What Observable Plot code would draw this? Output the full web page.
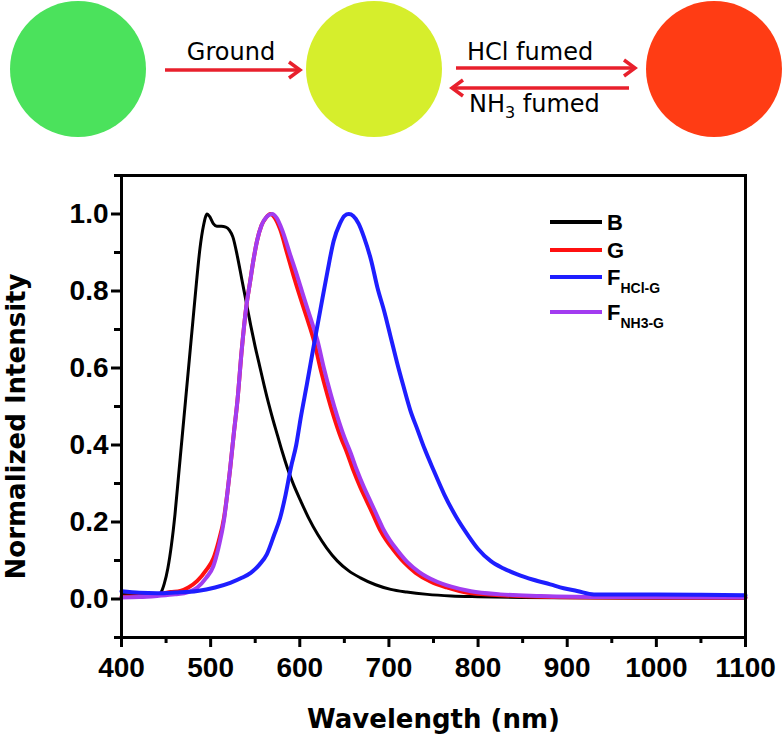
<!DOCTYPE html>
<html>
<head>
<meta charset="utf-8">
<script src="https://cdn.jsdelivr.net/npm/d3@7"></script>
<script src="https://cdn.jsdelivr.net/npm/@observablehq/plot@0.6"></script>
<style>
  body { margin: 0; background: #fff; }
  #wrap { position: relative; width: 783px; height: 741px; overflow: hidden; }
  #wrap > svg { position: absolute; }
</style>
</head>
<body>
<div id="wrap"></div>
<script>
// ---------- data ----------
const wlB = [400,420,440,444,448,452,456,460,464,468,472,476,480,484,488,492,496,499,503,507,512,517,521,525,530,535,540,545,550,555,560,565,570,575,580,586,593,601,610,620,630,642,655,668,685,702,720,743,770,800,850,900,1000,1100];
const vB  = [0.012,0.01,0.01,0.016,0.04,0.08,0.14,0.22,0.32,0.42,0.52,0.62,0.72,0.82,0.91,0.97,1.0,0.993,0.975,0.968,0.968,0.966,0.958,0.94,0.89,0.83,0.77,0.71,0.655,0.605,0.555,0.508,0.465,0.425,0.385,0.341,0.297,0.255,0.21,0.168,0.133,0.099,0.073,0.055,0.037,0.025,0.018,0.012,0.008,0.006,0.004,0.003,0.002,0.002];

const wlG = [400,420,440,455,466,475,485,495,503,509,515,519,522,526,530,535,540,544,548,552,557,562,567,572,578,586,593,601,608,616,623,631,638,646,653,660,668,675,683,690,697,705,717,730,747,765,788,825,870,950,1100];
const vG  = [0.006,0.008,0.012,0.018,0.021,0.03,0.047,0.075,0.105,0.15,0.211,0.28,0.341,0.43,0.514,0.65,0.76,0.82,0.88,0.93,0.97,0.99,1.0,0.99,0.96,0.896,0.84,0.78,0.73,0.67,0.6,0.53,0.475,0.42,0.38,0.335,0.29,0.255,0.215,0.18,0.153,0.128,0.095,0.068,0.045,0.03,0.016,0.01,0.006,0.004,0.003];

const wlH = [400,420,440,460,485,505,522,535,545,555,563,571,578,584,590,596,601,608,616,623,631,638,645,650,655,660,666,672,680,687,695,702,709,716,724,732,740,750,762,775,788,800,814,828,844,862,881,896,911,930,960,1000,1050,1100];
const vH  = [0.02,0.016,0.015,0.017,0.021,0.03,0.042,0.055,0.068,0.09,0.116,0.165,0.211,0.27,0.341,0.4,0.47,0.558,0.662,0.75,0.85,0.93,0.975,0.995,1.0,0.995,0.975,0.94,0.88,0.81,0.745,0.68,0.615,0.555,0.49,0.44,0.39,0.335,0.272,0.215,0.168,0.13,0.099,0.08,0.064,0.05,0.038,0.028,0.021,0.012,0.012,0.012,0.011,0.01];

const wlN = [400,420,440,460,475,485,495,503,509,515,519,522,526,530,535,540,544,548,552,557,563,569,574,580,589,597,605,612,620,627,635,642,650,657,664,672,679,687,694,701,709,721,734,751,770,792,825,870,950,1100];
const vN  = [0.004,0.005,0.008,0.012,0.018,0.03,0.055,0.085,0.135,0.205,0.28,0.341,0.43,0.514,0.65,0.76,0.82,0.88,0.93,0.97,0.993,1.0,0.99,0.96,0.896,0.84,0.78,0.73,0.67,0.6,0.53,0.475,0.42,0.38,0.335,0.29,0.255,0.215,0.18,0.153,0.128,0.095,0.07,0.048,0.032,0.02,0.012,0.008,0.005,0.004];

const seriesMain = ["B", "G", "F", "F"];
const seriesSub  = ["", "", "HCl-G", "NH3-G"];
const seriesColors = ["#000000", "#ff1010", "#1e1eff", "#a23cf0"];

const xTicks = [400, 500, 600, 700, 800, 900, 1000, 1100];
const xMinor = [450, 550, 650, 750, 850, 950, 1050];
const yTicks = [0, 0.2, 0.4, 0.6, 0.8, 1.0];
const yMinor = [-0.1, 0.1, 0.3, 0.5, 0.7, 0.9, 1.1];

const circleColors = ["#4be25c", "#d6ee2c", "#ff3c14"];
const arrowColor = "#e8202c";

// ---------- build ----------
const toRows = (wl, v) => wl.map((w, i) => ({wl: w, v: v[i]}));
const rowsB = toRows(wlB, vB), rowsG = toRows(wlG, vG), rowsH = toRows(wlH, vH), rowsN = toRows(wlN, vN);

const wrap = document.getElementById("wrap");

// top scheme
const scheme = d3.create("svg").attr("width", 783).attr("height", 150).style("left", "0px").style("top", "0px");
const cx = [78, 374, 714];
scheme.selectAll("circle").data(circleColors).join("circle")
  .attr("cx", (d, i) => cx[i]).attr("cy", 69).attr("r", 68).attr("fill", d => d);

function arrow(g, x1, x2, y, dir) {
  g.append("line").attr("x1", x1).attr("x2", x2).attr("y1", y).attr("y2", y)
    .attr("stroke", arrowColor).attr("stroke-width", 3.5);
  const tip = dir > 0 ? x2 : x1;
  g.append("path").attr("d", `M${tip - dir * 11},${y - 8}L${tip},${y}L${tip - dir * 11},${y + 8}`)
    .attr("fill", "none").attr("stroke", arrowColor).attr("stroke-width", 3.5).attr("stroke-linejoin", "miter");
}
arrow(scheme, 165, 300, 70, 1);
arrow(scheme, 456, 635, 68, 1);
arrow(scheme, 452, 629, 88, -1);

const tf = "DejaVu Sans, sans-serif";
scheme.append("text").attr("x", 231).attr("y", 60).attr("text-anchor", "middle")
  .attr("font-family", tf).attr("font-size", 24).text("Ground");
scheme.append("text").attr("x", 467).attr("y", 60)
  .attr("font-family", tf).attr("font-size", 24).text("HCl fumed");
const nh = scheme.append("text").attr("x", 469).attr("y", 112).attr("font-family", tf).attr("font-size", 24);
nh.append("tspan").text("NH");
nh.append("tspan").attr("font-size", 16).attr("dy", 6).text("3");
nh.append("tspan").attr("dy", -6).text(" fumed");
wrap.appendChild(scheme.node());

// main chart
const W = 783, H = 591, mL = 121, mR = 38, mT = 25, mB = 104;
const xDom = [400, 1100], yDom = [-0.1, 1.1];
const pxX = (xDom[1] - xDom[0]) / (W - mL - mR);
const pxY = (yDom[1] - yDom[0]) / (H - mT - mB);
const chart = Plot.plot({
  width: W,
  height: H,
  marginLeft: mL,
  marginRight: mR,
  marginTop: mT,
  marginBottom: mB,
  x: {domain: xDom},
  y: {domain: yDom},
  style: {fontFamily: "Liberation Sans, Arial, sans-serif", fontSize: "28px", fontWeight: "bold", color: "#000", background: "transparent", overflow: "visible"},
  marks: [
    Plot.line(rowsB, {x: "wl", y: "v", stroke: seriesColors[0], strokeWidth: 3, curve: "monotone-x"}),
    Plot.line(rowsG, {x: "wl", y: "v", stroke: seriesColors[1], strokeWidth: 4, curve: "monotone-x"}),
    Plot.line(rowsN, {x: "wl", y: "v", stroke: seriesColors[3], strokeWidth: 4, curve: "monotone-x"}),
    Plot.line(rowsH, {x: "wl", y: "v", stroke: seriesColors[2], strokeWidth: 4, curve: "monotone-x"}),
    Plot.ruleX(xTicks, {x: d => d, y1: () => yDom[0], y2: () => yDom[0] - 10 * pxY, stroke: "#000", strokeWidth: 3}),
    Plot.ruleX(xMinor, {x: d => d, y1: () => yDom[0], y2: () => yDom[0] - 6 * pxY, stroke: "#000", strokeWidth: 3}),
    Plot.ruleY(yTicks, {y: d => d, x1: () => xDom[0], x2: () => xDom[0] - 10 * pxX, stroke: "#000", strokeWidth: 3}),
    Plot.ruleY(yMinor, {y: d => d, x1: () => xDom[0], x2: () => xDom[0] - 7 * pxX, stroke: "#000", strokeWidth: 3}),
    Plot.frame({stroke: "#000", strokeWidth: 3}),
    Plot.axisX({ticks: xTicks, tickSize: 0, tickPadding: 20, label: null, tickFormat: d3.format("d"), fontSize: 28, fontWeight: "bold"}),
    Plot.axisY({ticks: yTicks, tickSize: 0, tickPadding: 13, label: null, tickFormat: d3.format(".1f"), fontSize: 28, fontWeight: "bold"}),
    Plot.text(["Wavelength (nm)"], {text: d => d, frameAnchor: "bottom", dy: 90, fontSize: 26, fontWeight: "bold", fontFamily: "DejaVu Sans, sans-serif"}),
    Plot.text(["Normalized Intensity"], {text: d => d, frameAnchor: "left", textAnchor: "middle", rotate: -90, dx: -105, dy: 20, fontSize: 26, fontWeight: "bold", fontFamily: "DejaVu Sans, sans-serif"})
  ]
});
chart.style.left = "0px";
chart.style.top = "150px";
wrap.appendChild(chart);

// legend
const leg = d3.create("svg").attr("width", 200).attr("height", 140).style("left", "540px").style("top", "200px");
const rowY = [22, 50, 77, 112];
const lg = leg.selectAll("g").data(seriesMain).join("g").attr("transform", (d, i) => `translate(0,${rowY[i]})`);
lg.append("line").attr("x1", 10).attr("x2", 62).attr("y1", 0).attr("y2", 0)
  .attr("stroke", (d, i) => seriesColors[i]).attr("stroke-width", 4);
const lt = lg.append("text").attr("x", 67).attr("y", 8)
  .attr("font-family", "Liberation Sans, Arial, sans-serif").attr("font-weight", "bold").attr("font-size", 22);
lt.append("tspan").text(d => d);
lt.append("tspan").attr("font-size", 14).attr("dy", 8).text((d, i) => seriesSub[i]);
wrap.appendChild(leg.node());
</script>
</body>
</html>
